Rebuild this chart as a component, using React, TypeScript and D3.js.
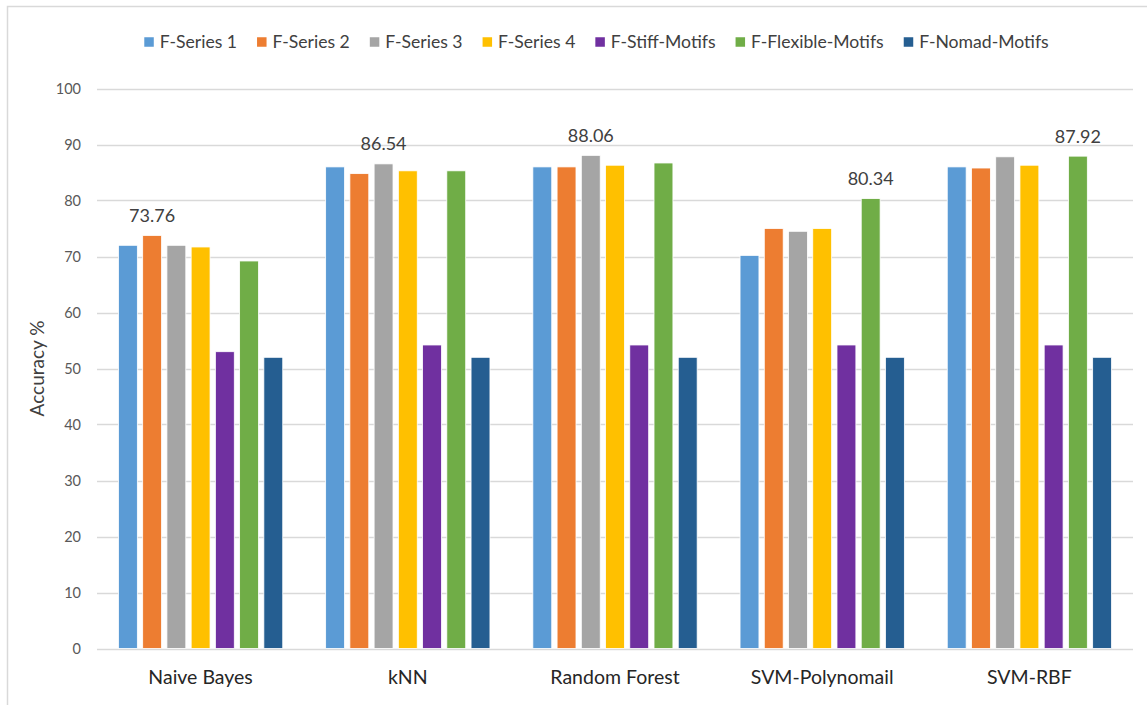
import React, { useEffect, useRef } from "react";
import * as d3 from "d3";

// Classifiers on the x axis
const categories = ["Naive Bayes", "kNN", "Random Forest", "SVM-Polynomail", "SVM-RBF"];

// Feature sets (one bar per feature set in every classifier group)
const seriesNames = [
  "F-Series 1",
  "F-Series 2",
  "F-Series 3",
  "F-Series 4",
  "F-Stiff-Motifs",
  "F-Flexible-Motifs",
  "F-Nomad-Motifs",
];

const seriesColors = ["#5B9BD5", "#ED7D31", "#A5A5A5", "#FFC000", "#7030A0", "#70AD47", "#255E91"];

// Accuracy (%) per feature set, in category order
const fSeries1 = [72.0, 86.0, 86.0, 70.2, 86.0];
const fSeries2 = [73.76, 84.8, 86.0, 75.0, 85.8];
const fSeries3 = [72.0, 86.54, 88.06, 74.5, 87.8];
const fSeries4 = [71.7, 85.3, 86.3, 75.0, 86.3];
const fStiff = [53.0, 54.2, 54.2, 54.2, 54.2];
const fFlexible = [69.2, 85.3, 86.7, 80.34, 87.92];
const fNomad = [52.0, 52.0, 52.0, 52.0, 52.0];

const seriesValues = [fSeries1, fSeries2, fSeries3, fSeries4, fStiff, fFlexible, fNomad];

const yTicks = [0, 10, 20, 30, 40, 50, 60, 70, 80, 90, 100];

const FONT = "Lato, 'Open Sans', sans-serif";

export default function App() {
  const ref = useRef<SVGSVGElement | null>(null);

  useEffect(() => {
    const W = 1147;
    const H = 705;
    const plot = { left: 97, right: 1133, top: 88.5, bottom: 648.5 };

    const svg = d3.select(ref.current);
    svg.selectAll("*").remove();

    svg.append("rect").attr("width", W).attr("height", H).attr("fill", "#ffffff");

    // frame edges (top and left)
    svg
      .append("path")
      .attr("d", `M7.5,${H} V6.5 H${W}`)
      .attr("fill", "none")
      .attr("stroke", "#d9d9d9")
      .attr("stroke-width", 1.5);

    const x0 = d3
      .scaleBand<string>()
      .domain(categories)
      .range([plot.left, plot.right])
      .paddingInner(0.207)
      .paddingOuter(0.1035);

    const x1 = d3
      .scaleBand<string>()
      .domain(seriesNames)
      .range([0, x0.bandwidth()])
      .paddingInner(0.22)
      .paddingOuter(0);

    const y = d3.scaleLinear().domain([0, 100]).range([plot.bottom, plot.top]);

    // gridlines
    svg
      .append("g")
      .selectAll("line")
      .data(yTicks)
      .join("line")
      .attr("x1", plot.left)
      .attr("x2", plot.right)
      .attr("y1", (d) => Math.round(y(d)) + 0.5)
      .attr("y2", (d) => Math.round(y(d)) + 0.5)
      .attr("stroke", "#d9d9d9")
      .attr("stroke-width", 1.3);

    // y tick labels
    svg
      .append("g")
      .selectAll("text")
      .data(yTicks)
      .join("text")
      .attr("x", 81)
      .attr("y", (d) => y(d))
      .attr("dy", "0.35em")
      .attr("text-anchor", "end")
      .attr("font-family", FONT)
      .attr("font-size", 14.5)
      .attr("fill", "#595959")
      .text((d) => String(d));

    // y axis title
    svg
      .append("text")
      .attr("transform", `translate(44,${(plot.top + plot.bottom) / 2}) rotate(-90)`)
      .attr("text-anchor", "middle")
      .attr("font-family", FONT)
      .attr("font-size", 19)
      .attr("fill", "#404040")
      .text("Accuracy %");

    // bars
    const groups = svg
      .append("g")
      .selectAll("g")
      .data(categories)
      .join("g")
      .attr("transform", (c) => `translate(${x0(c)},0)`);

    groups
      .selectAll("rect")
      .data((c, ci) => seriesNames.map((s, si) => ({ s, si, v: seriesValues[si][ci] })))
      .join("rect")
      .attr("x", (d) => x1(d.s) as number)
      .attr("width", x1.bandwidth())
      .attr("y", (d) => y(d.v))
      .attr("height", (d) => y(0) - y(d.v))
      .attr("fill", (d) => seriesColors[d.si])
      .attr("stroke", "#ffffff")
      .attr("stroke-width", 0.8);

    // value label on the best feature set of each classifier
    groups.each(function (c, ci) {
      const vals = seriesValues.map((arr) => arr[ci]);
      const best = d3.maxIndex(vals);
      d3.select(this)
        .append("text")
        .attr("x", (x1(seriesNames[best]) as number) + x1.bandwidth() / 2)
        .attr("y", y(vals[best]) - 13.5)
        .attr("text-anchor", "middle")
        .attr("font-family", FONT)
        .attr("font-size", 18)
        .attr("fill", "#404040")
        .text(d3.format(".2f")(vals[best]));
    });

    // category labels
    svg
      .append("g")
      .selectAll("text")
      .data(categories)
      .join("text")
      .attr("x", (c) => (x0(c) as number) + x0.bandwidth() / 2)
      .attr("y", 684)
      .attr("text-anchor", "middle")
      .attr("font-family", FONT)
      .attr("font-size", 19.5)
      .attr("fill", "#262626")
      .text((c) => c);

    // legend, laid out left to right and centred
    const legend = svg.append("g");
    const sq = 9.5;
    const gapText = 6;
    const gapItem = 20;
    const items = seriesNames.map((name, i) => {
      const g = legend.append("g");
      g.append("rect")
        .attr("width", sq)
        .attr("height", sq)
        .attr("y", -sq / 2)
        .attr("fill", seriesColors[i]);
      const t = g
        .append("text")
        .attr("x", sq + gapText)
        .attr("dy", "0.35em")
        .attr("font-family", FONT)
        .attr("font-size", 17.6)
        .attr("fill", "#404040")
        .text(name);
      const w = (t.node() as SVGTextElement).getComputedTextLength();
      return { g, w: sq + gapText + w };
    });
    const total = d3.sum(items, (d) => d.w) + gapItem * (items.length - 1);
    let cx = 596.5 - total / 2;
    items.forEach((it) => {
      it.g.attr("transform", `translate(${cx},42)`);
      cx += it.w + gapItem;
    });
  }, []);

  return (
    <svg
      ref={ref}
      width={1147}
      height={705}
      style={{ position: "absolute", left: 0, top: 0, display: "block" }}
    />
  );
}
